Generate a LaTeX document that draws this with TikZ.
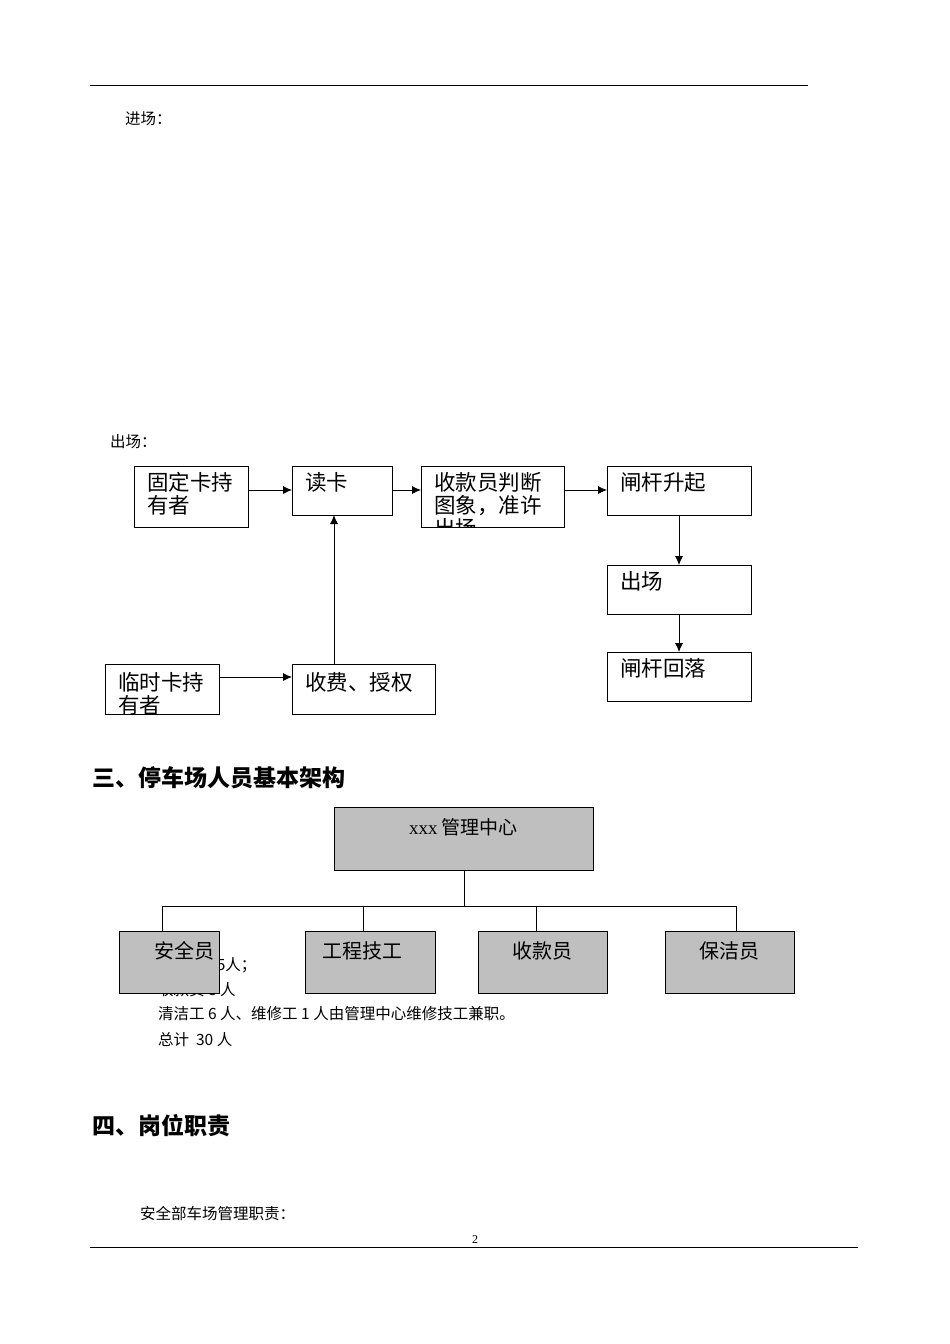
\documentclass[tikz,border=0pt]{standalone}
\usepackage{fontspec}
\setmainfont{Liberation Serif}
\newfontfamily\cjk{Noto Sans CJK SC}
\usetikzlibrary{arrows.meta}
\begin{document}
\begin{tikzpicture}[x=1pt,y=-1pt,
  fbox/.style={draw,line width=0.9pt},
  gbox/.style={draw,line width=0.9pt,fill=black!25},
  btxt/.style={anchor=north west,inner sep=0,font=\cjk\fontsize{21.5}{23}\selectfont,align=left},
  ctxt/.style={anchor=base,inner sep=0,font=\cjk\fontsize{20}{22}\selectfont},
  ptxt/.style={anchor=base west,inner sep=0,font=\cjk\fontsize{15.5}{18}\selectfont},
  htxt/.style={anchor=base west,inner sep=0,font=\cjk\bfseries\fontsize{23}{26}\selectfont},
  arr/.style={-{Latex[length=9pt,width=8pt]},line width=0.8pt},
  ln/.style={line width=0.8pt}]
\useasboundingbox (0,0) rectangle (950,1344);
\fill[white] (0,0) rectangle (950,1344);
\draw[ln] (90,85) -- (808,85);
\draw[ln] (90,1247) -- (858,1247);
\node[anchor=base,inner sep=0,font=\fontsize{12}{14}\selectfont] (pg) at (475,1243) {2};
\node[ptxt] (jc) at (125,124) {进场：};
\node[ptxt] (cc) at (110,447) {出场：};
% flow boxes
\coordinate (a1) at (134,466); \coordinate (a2) at (248,527);
\draw[fbox] (a1) rectangle (a2);
\begin{scope}\clip (a1) rectangle (a2);
\node[btxt] (At) at (147,472) {固定卡持\\有者};\end{scope}
\coordinate (b1) at (292,466); \coordinate (b2) at (392,515);
\draw[fbox] (b1) rectangle (b2);
\node[btxt] (Bt) at (305,472) {读卡};
\coordinate (c1) at (421,466); \coordinate (c2) at (564,527);
\draw[fbox] (c1) rectangle (c2);
\begin{scope}\clip (c1) rectangle (c2);
\node[btxt] (Ct) at (434,472) {收款员判断\\图象，准许\\出场};\end{scope}
\coordinate (d1) at (607,466); \coordinate (d2) at (751,515);
\draw[fbox] (d1) rectangle (d2);
\node[btxt] (Dt) at (620,472) {闸杆升起};
\coordinate (e1) at (607,565); \coordinate (e2) at (751,614);
\draw[fbox] (e1) rectangle (e2);
\node[btxt] (Et) at (620,571) {出场};
\coordinate (f1) at (607,652); \coordinate (f2) at (751,701);
\draw[fbox] (f1) rectangle (f2);
\node[btxt] (Ft) at (620,658) {闸杆回落};
\coordinate (g1) at (105,664); \coordinate (g2) at (219,714);
\draw[fbox] (g1) rectangle (g2);
\begin{scope}\clip (g1) rectangle (g2);
\node[btxt] (Gt) at (118,672) {临时卡持\\有者};\end{scope}
\coordinate (h1) at (292,664); \coordinate (h2) at (435,714);
\draw[fbox] (h1) rectangle (h2);
\node[btxt] (Ht) at (305,672) {收费、授权};
% arrows
\draw[arr] (248,490) -- (292,490);
\draw[arr] (392,490) -- (421,490);
\draw[arr] (564,490) -- (607,490);
\draw[arr] (679,515) -- (679,565);
\draw[arr] (679,614) -- (679,652);
\draw[arr] (219,677) -- (292,677);
\draw[arr] (334,664) -- (334,515);
% heading 3
\node[htxt] (h3) at (92,786) {三、停车场人员基本架构};
% hidden text lines
\node[ptxt] (l1) at (158,970) {安全员 15人；};
\node[ptxt] (l2) at (158,995) {收款员 8 人};
\node[ptxt] (l3) at (158,1019) {清洁工 6 人、维修工 1 人由管理中心维修技工兼职。};
\node[ptxt] (l4) at (158,1045) {总计\ \ 30 人};
% org chart
\draw[gbox] (334,807) rectangle (593,870);
\node[anchor=base,inner sep=0,font=\cjk\fontsize{19}{22}\selectfont] (M) at (463.5,834) {{\rmfamily xxx} 管理中心};
\draw[ln] (464,870) -- (464,906);
\draw[ln] (162,906) -- (736,906);
\foreach \x in {162,363,536,736} \draw[ln] (\x,906) -- (\x,931);
\draw[gbox] (119,931) rectangle (219,993);
\draw[gbox] (305,931) rectangle (435,993);
\draw[gbox] (478,931) rectangle (607,993);
\draw[gbox] (665,931) rectangle (794,993);
\node[ctxt] (o1) at (184,958) {安全员};
\node[ctxt] (o2) at (362,958) {工程技工};
\node[ctxt] (o3) at (542,958) {收款员};
\node[ctxt] (o4) at (729,958) {保洁员};
\node[htxt] (h4) at (92,1134) {四、岗位职责};
\node[ptxt] (s) at (140,1219) {安全部车场管理职责：};
\end{tikzpicture}
\end{document}
